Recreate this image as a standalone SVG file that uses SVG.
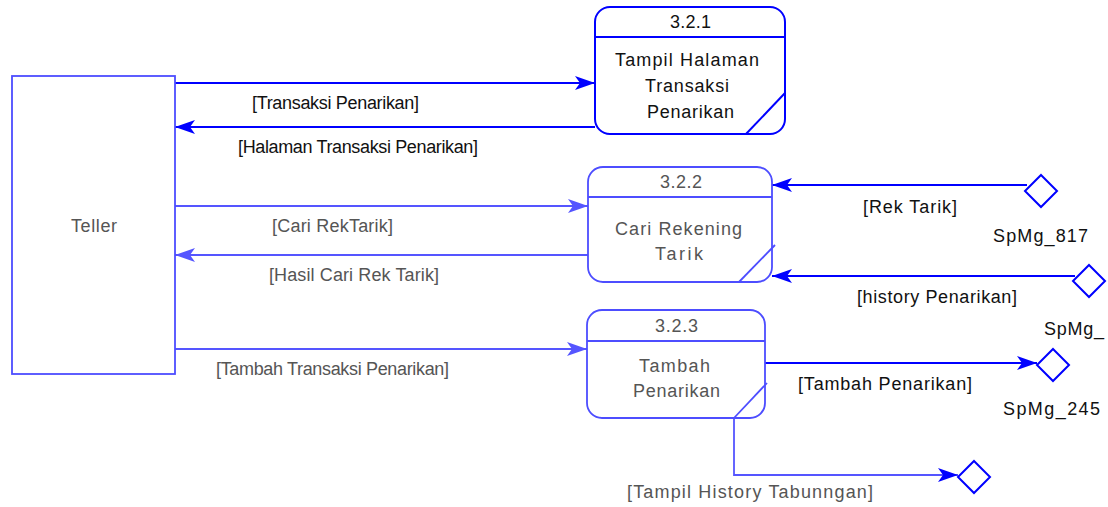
<svg xmlns="http://www.w3.org/2000/svg" width="1108" height="507" viewBox="0 0 1108 507">
<style>
  text { font-family: "Liberation Sans", Arial, sans-serif; font-size: 18px; }
  .dk { fill: #111; }
  .gr { fill: #555; }
  .box { fill: none; stroke: #0000ff; stroke-width: 2; }
  .boxl { fill: none; stroke: #4d4dff; stroke-width: 1.8; }
  .fl { fill: none; stroke: #0000ff; stroke-width: 2; }
  .fll { fill: none; stroke: #5555ff; stroke-width: 1.8; }
  .st { fill: #fff; stroke: #0000ff; stroke-width: 2; }
</style>
<defs>
  <marker id="ah" markerUnits="userSpaceOnUse" markerWidth="22" markerHeight="16" refX="20" refY="7" orient="auto">
    <path d="M0,0 L20,7 L0,14 L5,7 z" fill="#0000ff"/>
  </marker>
  <marker id="ahl" markerUnits="userSpaceOnUse" markerWidth="22" markerHeight="16" refX="20" refY="7" orient="auto">
    <path d="M0,0 L20,7 L0,14 L5,7 z" fill="#5555ff"/>
  </marker>
</defs>
<rect width="1108" height="507" fill="#fff"/>

<g id="connectors">
  <line class="fl" x1="175" y1="83" x2="595" y2="83" marker-end="url(#ah)"/>
  <line class="fl" x1="595" y1="127" x2="175" y2="127" marker-end="url(#ah)"/>
  <line class="fll" x1="175" y1="206" x2="588" y2="206" marker-end="url(#ahl)"/>
  <line class="fll" x1="588" y1="255" x2="175" y2="255" marker-end="url(#ahl)"/>
  <line class="fll" x1="175" y1="349" x2="587" y2="349" marker-end="url(#ahl)"/>
  <line class="fl" x1="1027" y1="185" x2="772" y2="185" marker-end="url(#ah)"/>
  <line class="fl" x1="1075" y1="276" x2="772" y2="276" marker-end="url(#ah)"/>
  <line class="fl" x1="765" y1="363" x2="1037" y2="363" marker-end="url(#ah)"/>
  <polyline class="fll" points="734,418 734,475 958,475" marker-end="url(#ah)"/>
  <text class="dk" x="252" y="109" textLength="167">[Transaksi Penarikan]</text>
  <text class="dk" x="238" y="153" textLength="240">[Halaman Transaksi Penarikan]</text>
  <text class="gr" x="272" y="232" textLength="121">[Cari RekTarik]</text>
  <text class="gr" x="269" y="281" textLength="170">[Hasil Cari Rek Tarik]</text>
  <text class="gr" x="216" y="375" textLength="233">[Tambah Transaksi Penarikan]</text>
  <text class="dk" x="863" y="213" textLength="94">[Rek Tarik]</text>
  <text class="dk" x="857" y="303" textLength="160">[history Penarikan]</text>
  <text class="dk" x="798" y="390" textLength="174">[Tambah Penarikan]</text>
  <text class="gr" x="627" y="498" textLength="246">[Tampil History Tabunngan]</text>
</g>

<g id="teller">
  <rect class="boxl" x="12" y="76" width="163" height="298" stroke="#2a2aff"/>
  <text class="gr" x="71" y="232" textLength="46">Teller</text>
</g>

<g id="p321">
  <rect class="box" x="595" y="7" width="190" height="127" rx="15"/>
  <line class="box" x1="595" y1="37" x2="785" y2="37"/>
  <line class="box" x1="746" y1="134" x2="785" y2="93"/>
  <text class="dk" x="670" y="28" textLength="41">3.2.1</text>
  <text class="dk" x="615" y="66" textLength="144">Tampil Halaman</text>
  <text class="dk" x="645" y="92" textLength="84">Transaksi</text>
  <text class="dk" x="647" y="118" textLength="87">Penarikan</text>
</g>

<g id="p322">
  <rect class="boxl" x="588" y="167" width="184" height="115" rx="15"/>
  <line class="boxl" x1="588" y1="197" x2="772" y2="197"/>
  <line class="boxl" x1="739" y1="282" x2="775" y2="245"/>
  <text class="gr" x="660" y="188" textLength="42">3.2.2</text>
  <text class="gr" x="615" y="235" textLength="127">Cari Rekening</text>
  <text class="gr" x="655" y="260" textLength="48">Tarik</text>
</g>

<g id="p323">
  <rect class="boxl" x="587" y="310" width="178" height="108" rx="15"/>
  <line class="boxl" x1="587" y1="341" x2="765" y2="341"/>
  <line class="boxl" x1="734" y1="418" x2="767" y2="383"/>
  <text class="gr" x="655" y="332" textLength="43">3.2.3</text>
  <text class="gr" x="639" y="372" textLength="71">Tambah</text>
  <text class="gr" x="633" y="397" textLength="87">Penarikan</text>
</g>

<g id="spmg817">
  <polygon class="st" points="1041,175 1057,191 1041,207 1025,191"/>
  <text class="dk" x="993" y="242" textLength="95">SpMg_817</text>
</g>

<g id="spmg2">
  <polygon class="st" points="1089,265 1105,281 1089,297 1073,281"/>
  <text class="dk" x="1044" y="335" textLength="60">SpMg_</text>
</g>

<g id="spmg245">
  <polygon class="st" points="1053,349 1069,365 1053,381 1037,365"/>
  <text class="dk" x="1003" y="415" textLength="97">SpMg_245</text>
</g>

<g id="spmg4">
  <polygon class="st" points="974,461 990,477 974,493 958,477"/>
</g>
</svg>
